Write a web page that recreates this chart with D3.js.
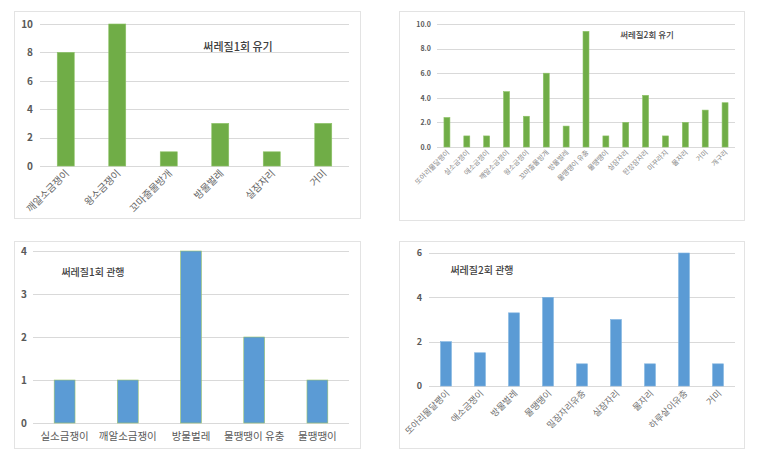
<!DOCTYPE html>
<html><head><meta charset="utf-8">
<script src="https://cdn.jsdelivr.net/npm/d3@7"></script>
<style>
html,body{margin:0;padding:0;background:#fff;}
text{font-family:"Noto Sans CJK KR","Noto Sans",sans-serif;}
</style></head>
<body><svg id="c" width="758" height="456"></svg>
<script>
// Panel 1: 써레질1회 유기
const cats1 = ["깨알소금쟁이","왕소금쟁이","꼬마줄물방개","방물벌레","실잠자리","거미"];
const vals1 = [8, 10, 1, 3, 1, 3];
const ticks1 = [0, 2, 4, 6, 8, 10];
// Panel 2: 써레질2회 유기
const cats2 = ["또아리물달팽이","실소금쟁이","애소금쟁이","깨알소금쟁이","왕소금쟁이","꼬마줄물방개","방물벌레","물땡땡이 유충","물땡땡이","실잠자리","된장잠자리","미꾸라지","물자리","거미","개구리"];
const vals2 = [2.4, 0.9, 0.9, 4.5, 2.5, 6.0, 1.7, 9.4, 0.9, 2.0, 4.2, 0.9, 2.0, 3.0, 3.6];
const ticks2 = [0, 2, 4, 6, 8, 10];
// Panel 3: 써레질1회 관행
const cats3 = ["실소금쟁이","깨알소금쟁이","방물벌레","물땡땡이 유충","물땡땡이"];
const vals3 = [1, 1, 4, 2, 1];
const ticks3 = [0, 1, 2, 3, 4];
// Panel 4: 써레질2회 관행
const cats4 = ["또아리물달팽이","애소금쟁이","방물벌레","물땡땡이","밀잠자리유충","실잠자리","물자리","하루살이유충","거미"];
const vals4 = [2, 1.5, 3.3, 4, 1, 3, 1, 6, 1];
const ticks4 = [0, 2, 4, 6];
const titles = ["써레질1회 유기","써레질2회 유기","써레질1회 관행","써레질2회 관행"];

const svg = d3.select("#c");

function panel(o){
  const g = svg.append("g");
  g.append("rect").attr("x",o.box[0]+0.5).attr("y",o.box[1]+0.5)
    .attr("width",o.box[2]-o.box[0]).attr("height",o.box[3]-o.box[1])
    .attr("fill","none").attr("stroke","#e3e3e3").attr("stroke-width",1);
  const x = d3.scaleBand().domain(o.cats).range([o.x0,o.x1]).paddingInner(o.pad).paddingOuter(o.pad/2);
  const y = d3.scaleLinear().domain([0,o.ticks[o.ticks.length-1]]).range([o.y0,o.y1]);
  g.selectAll("line.grid").data(o.ticks).join("line")
    .attr("x1",o.x0).attr("x2",o.x1)
    .attr("y1",d=>Math.round(y(d))+0.5).attr("y2",d=>Math.round(y(d))+0.5)
    .attr("stroke","#d9d9d9").attr("stroke-width",1);
  const yAxis = d3.axisLeft(y).tickValues(o.ticks).tickSize(0).tickPadding(0).tickFormat(o.fmt);
  const ya = g.append("g").attr("transform",`translate(${o.ylx},0)`).call(yAxis);
  ya.select(".domain").remove();
  ya.selectAll("text").attr("fill","#595959").attr("font-size",o.yfs).attr("font-weight","bold")
    .attr("font-family",'"Liberation Sans",Arial,sans-serif');
  g.selectAll("rect.bar").data(o.vals).join("rect")
    .attr("x",(d,i)=>x(o.cats[i])).attr("width",x.bandwidth())
    .attr("y",d=>y(d)).attr("height",d=>y(0)-y(d))
    .attr("fill",o.color).attr("stroke",o.stroke).attr("stroke-width",0.6);
  const xl = g.selectAll("text.xl").data(o.cats).join("text")
    .attr("fill",o.xcol).attr("font-size",o.xfs).text(d=>d);
  if(o.rot){
    xl.attr("text-anchor","end")
      .attr("transform",d=>`translate(${x(d)+x.bandwidth()/2+o.xdx},${o.y0+o.xdy}) rotate(-45)`);
  } else {
    xl.attr("text-anchor","middle").attr("x",d=>x(d)+x.bandwidth()/2).attr("y",o.y0+o.xdy);
  }
  g.append("text").attr("x",o.tx).attr("y",o.ty).attr("text-anchor","middle")
    .attr("font-size",o.tfs).attr("fill","#404040").attr("font-weight","500").text(o.title);
}

panel({box:[14,11,360,218],cats:cats1,vals:vals1,ticks:ticks1,x0:40,x1:349,y0:166,y1:24,pad:0.67,
  ylx:33,yfs:10,fmt:d3.format("d"),color:"#70ad47",stroke:"#8cc265",xfs:10,xcol:"#666",rot:true,xdx:4,xdy:8,
  title:titles[0],tx:238,ty:51,tfs:11});
panel({box:[399,11,744,220],cats:cats2,vals:vals2,ticks:ticks2,x0:437,x1:735,y0:147,y1:24,pad:0.7,
  ylx:431,yfs:7,fmt:d3.format(".1f"),color:"#70ad47",stroke:"#8cc265",xfs:7,xcol:"#8a8a8a",rot:true,xdx:3,xdy:6,
  title:titles[1],tx:647,ty:38,tfs:8.5});
panel({box:[14,241,360,448],cats:cats3,vals:vals3,ticks:ticks3,x0:33,x1:349,y0:423,y1:251,pad:0.67,
  ylx:27,yfs:10,fmt:d3.format("d"),color:"#5b9bd5",stroke:"#9cc36a",xfs:10.5,xcol:"#595959",rot:false,xdx:0,xdy:17,
  title:titles[2],tx:93,ty:276,tfs:10});
panel({box:[399,241,744,448],cats:cats4,vals:vals4,ticks:ticks4,x0:429,x1:735,y0:386,y1:253,pad:0.68,
  ylx:422,yfs:9,fmt:d3.format("d"),color:"#5b9bd5",stroke:"#7fb3e0",xfs:9,xcol:"#6f6f6f",rot:true,xdx:4,xdy:8,
  title:titles[3],tx:482,ty:274,tfs:10});
</script></body></html>
